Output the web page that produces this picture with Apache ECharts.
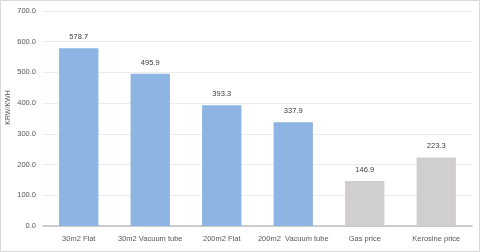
<!DOCTYPE html>
<html><head><meta charset="utf-8">
<script src="https://cdn.jsdelivr.net/npm/echarts@6/dist/echarts.min.js"></script>
<style>html,body{margin:0;padding:0;background:#fff}#c{width:480px;height:252px;box-sizing:border-box;border:1px solid #d9d9d9}</style>
</head><body><div id="c"></div>
<script>
const categories = ['30m2 Flat', '30m2 Vacuum tube', '200m2 Flat', '200m2  Vacuum tube', 'Gas price', 'Kerosine price'];
const values = [578.7, 495.9, 393.3, 337.9, 146.9, 223.3];
const barColors = ['#8db4e2', '#8db4e2', '#8db4e2', '#8db4e2', '#d0cece', '#d0cece'];
const yTicks = [0, 100, 200, 300, 400, 500, 600, 700];
const font = "'Liberation Sans Narrow', 'Liberation Sans', sans-serif";
const chart = echarts.init(document.getElementById('c'), null, {renderer: 'canvas'});
chart.setOption({
  animation: false,
  grid: {left: 42, right: 7, top: 10, bottom: 25, containLabel: false, outerBoundsMode: 'none'},
  xAxis: {
    type: 'category', data: categories,
    axisLine: {lineStyle: {color: '#bfbfbf', width: 1.5}},
    axisTick: {show: false},
    axisLabel: {color: '#595959', fontSize: 7.5, fontFamily: font, margin: 9, interval: 0}
  },
  yAxis: {
    type: 'value', min: yTicks[0], max: yTicks[yTicks.length - 1], interval: 100,
    name: 'KRW/KWH', nameLocation: 'middle', nameGap: 31, nameRotate: 90, nameMoveOverlap: false,
    nameTextStyle: {color: '#595959', fontSize: 7, fontFamily: font, padding: [0, 0, 0, 22]},
    axisLine: {show: false}, axisTick: {show: false},
    axisLabel: {color: '#595959', fontSize: 7.5, fontFamily: font, margin: 7, formatter: v => v.toFixed(1)},
    splitLine: {lineStyle: {color: '#ececec', width: 1}}
  },
  series: [{
    type: 'bar', barWidth: '55%',
    data: values.map((v, i) => ({value: v, itemStyle: {color: barColors[i]}})),
    label: {show: true, position: 'top', distance: 7, color: '#404040', fontSize: 7.5, fontFamily: font, formatter: p => p.value.toFixed(1)}
  }]
});
</script></body></html>
